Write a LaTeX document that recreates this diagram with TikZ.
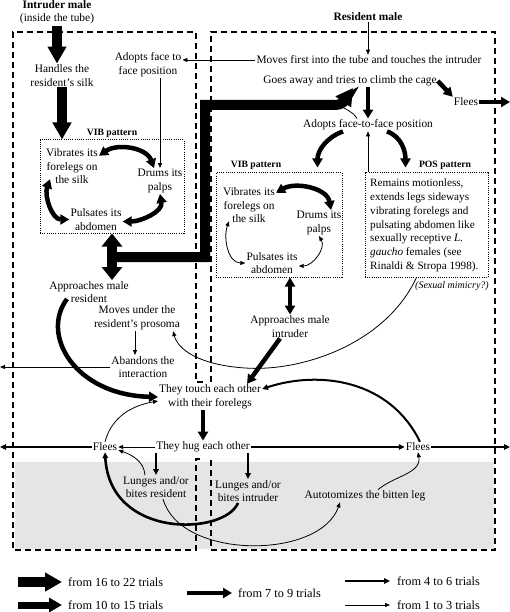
\documentclass[tikz,border=0pt]{standalone}
\usepackage{fontspec}
\setmainfont{Liberation Serif}
\usetikzlibrary{arrows.meta}

\begin{document}
\begin{tikzpicture}[x=1pt, y=1pt,
  font=\fontsize{11.4}{13.5}\selectfont,
  txt/.style={align=center, inner sep=1pt},
  boxdash/.style={line width=2pt, dash pattern=on 6pt off 4pt},
  patbox/.style={draw, line width=1pt, dash pattern=on 1pt off 1.2pt, inner sep=0pt},
  patlab/.style={font=\fontsize{9.7}{11}\selectfont\bfseries, inner sep=1pt},
  legtxt/.style={anchor=west, inner sep=0pt, font=\fontsize{12.3}{14}\selectfont},
  wa/.style={line width=10pt, -{Triangle[length=17pt,width=18pt]}},
  wad/.style={line width=10pt, {Triangle[length=13pt,width=20pt]}-{Triangle[length=13pt,width=20pt]}},
  wb/.style={line width=7pt, -{Triangle[length=13pt,width=14pt]}},
  wc/.style={line width=4.5pt, -{Triangle[length=9pt,width=10pt]}},
  wcd/.style={line width=4.5pt, {Triangle[length=9pt,width=10pt]}-{Triangle[length=9pt,width=10pt]}},
  wd/.style={line width=2pt, -{Triangle[length=6pt,width=5.5pt]}},
  we/.style={line width=0.8pt, -{Triangle[length=5pt,width=4pt]}},
  wed/.style={line width=0.8pt, {Triangle[length=5pt,width=4pt]}-{Triangle[length=5pt,width=4pt]}}]

  \useasboundingbox (0,0) rectangle (510,-612);

  % 灰色区域
  \fill[black!10] (15,-462) rectangle (494,-549);

  % 两个虚线框
  \draw[boxdash] (203,-382) -- (196,-382) -- (196,-32) -- (13,-32) -- (13,-550) -- (196,-550) -- (196,-459) -- (203,-459);
  \draw[boxdash] (211,-382) -- (211,-32) -- (495,-32) -- (495,-550) -- (211,-550) -- (211,-460);

  % 上部节点
  \node[txt] (intr) at (57,-12.5) {\textbf{Intruder male}\\(inside the tube)};
  \node[txt] (resm) at (368,-17) {\textbf{Resident male}};
  \node[txt] (hand) at (62,-75.5) {Handles the\\resident's silk};
  \node[txt] (adoptL) at (148,-64.5) {Adopts face to\\face position};
  \node[txt] (moves) at (369,-60) {Moves first into the tube and touches the intruder};
  \node[txt] (goes) at (350,-81) {Goes away and tries to climb the cage};
  \node[txt] (fleesT) at (466,-102) {Flees};
  \node[txt] (f2f) at (368,-125) {Adopts face-to-face position};

  % 左边 VIB 框
  \node[patbox, minimum width=144pt, minimum height=93pt] (vibboxL) at (112,-186.5) {};
  \node[patlab] (vibLabL) at (112,-133) {VIB pattern};
  \node[txt] (vibL) at (72,-166.5) {Vibrates its\\forelegs on\\the silk};
  \node[txt] (drumL) at (160,-181) {Drums its\\palps};
  \node[txt] (pulsL) at (96,-219.5) {Pulsates its\\abdomen};

  % 右边 VIB 框和 POS 框
  \node[patbox, minimum width=126pt, minimum height=104pt] (vibboxR) at (279,-225) {};
  \node[patlab] (vibLabR) at (256,-165) {VIB pattern};
  \node[txt] (vibR) at (249,-205.5) {Vibrates its\\forelegs on\\the silk};
  \node[txt] (drumR) at (319,-223) {Drums its\\palps};
  \node[txt] (pulsR) at (272,-263) {Pulsates its\\abdomen};
  \node[patbox, minimum width=123pt, minimum height=104pt] (posbox) at (426.5,-225) {};
  \node[patlab] (posLab) at (445,-165) {POS pattern};
  \node[align=left, inner sep=0pt, anchor=west, font=\fontsize{11.2}{13.8}\selectfont] (postxt) at (370,-225.5)
    {Remains motionless,\\extends legs sideways\\vibrating forelegs and\\pulsating abdomen like\\sexually receptive \textit{L.}\\\textit{gaucho} females (see\\Rinaldi \& Stropa 1998).};
  \node[font=\fontsize{10}{11}\selectfont\itshape, inner sep=1pt] (mimic) at (452,-286) {(Sexual mimicry?)};

  % 中下部节点
  \node[txt] (apprR) at (290,-326.5) {Approaches male\\intruder};
  \node[txt] (apprL) at (89,-292) {Approaches male\\resident};
  \node[txt] (under) at (137,-318) {Moves under the\\resident's prosoma};
  \node[txt] (aband) at (143,-367) {Abandons the\\interaction};
  \node[txt] (touch) at (210,-397) {They touch each other\\with their forelegs};
  \node[txt] (hug) at (203,-447) {They hug each other};
  \node[txt] (fleesL) at (105,-447) {Flees};
  \node[txt] (fleesR) at (418,-447) {Flees};
  \node[txt] (lungR) at (156,-487) {Lunges and/or\\bites resident};
  \node[txt] (lungI) at (248,-491) {Lunges and/or\\bites intruder};
  \node[txt] (auto) at (365,-496) {Autotomizes the bitten leg};

  \coordinate (edgeL1) at (0,-366);
  \coordinate (edgeL2) at (0,-447);
  \coordinate (edgeR1) at (510,-102);
  \coordinate (edgeR2) at (510,-447);
  \coordinate (jn) at (112,-257);
  \coordinate (climbTip) at (353,-88);
  \coordinate (thk) at (338,-104);

  % 入侵者一侧
  \draw[wa] (intr.south) -- (intr.south |- hand.north);
  \draw[wa] (hand.south) -- (hand.south |- vibboxL.north);
  \draw[wcd] ([yshift=-8pt]vibL.north east) to[out=35,in=110] ([xshift=-6pt]drumL.north);
  \draw[wcd] ([xshift=5pt,yshift=6pt]vibL.south west) to[out=250,in=180] (pulsL.west);
  \draw[wcd] (drumL.south) to[out=-80,in=0] ([yshift=-2pt]pulsL.east);
  \draw[wad] (vibboxL.south -| jn) -- (apprL.north -| jn);
  \draw[wa, line join=miter] (jn) -| (205,-105) -- (335,-105) to[out=0,in=235] (climbTip);

  % 居住者一侧
  \draw[we] (resm.south) -- (resm.south |- moves.north);
  \draw[we] (moves.west) -- (moves.west -| adoptL.east);
  \draw[we] (adoptL.south -| drumL.north) -- (drumL.north);
  \draw[we, -] (thk) to[out=-40,in=120] ([xshift=-11pt]f2f.north);
  \draw[wc] (goes.south -| f2f.north) -- (f2f.north);
  \draw[wc] (goes.east) -- (fleesT.north west);
  \draw[wc] (fleesT.east) -- (edgeR1);
  \draw[wc] ([xshift=-25pt]f2f.south) to[out=200,in=90] ([xshift=-25pt,yshift=5pt]vibboxR.north east);
  \draw[wc] ([xshift=19pt]f2f.south) to[out=-20,in=90] ([xshift=-21pt,yshift=5pt]posbox.north);
  \draw[we] (f2f.south |- posbox.north) -- (f2f.south);
  \draw[wcd] ([yshift=-6pt]vibR.north east) to[out=30,in=100] ([xshift=12pt]drumR.north);
  \draw[wed] ([xshift=7pt,yshift=3pt]vibR.south west) to[out=250,in=180] (pulsR.west);
  \draw[wed] (drumR.south) to[out=-60,in=0] ([yshift=-3pt]pulsR.east);
  \draw[wcd] (vibboxR.south -| apprR.north) -- (apprR.north);
  \draw[wc] ([xshift=-10pt]apprR.south) -- ([xshift=-15pt]touch.north east);
  \draw[we] ([xshift=-10pt]posbox.south) .. controls (385,-345) and (300,-372) .. (245,-368)
    .. controls (200,-365) and (178,-350) .. ([xshift=-8pt]under.south east);

  % 接触以后
  \draw[wc] ([xshift=-22pt,yshift=5pt]apprL.south) .. controls (40,-335) and (75,-395) .. (touch.west);
  \draw[we] ([xshift=-2pt]under.south) -- ([xshift=-2pt]under.south |- aband.north);
  \draw[we] (aband.west) -- (aband.west -| edgeL1);
  \draw[wc] (touch.south -| hug.north) -- (hug.north);
  \draw[we] (hug.west) -- (fleesL.east);
  \draw[wd] (fleesL.west) -- (edgeL2);
  \draw[we] (fleesL.north) to[out=75,in=190] ([yshift=-4pt]touch.west);
  \draw[wd] (hug.east) -- (fleesR.west);
  \draw[wd] (fleesR.east) -- (edgeR2);
  \draw[wd] ([xshift=2pt]fleesR.north) .. controls (390,-380) and (320,-370) .. ([yshift=8pt]touch.east);
  \draw[wd] (hug.south -| lungR.north) -- (lungR.north);
  \draw[wd] (hug.south -| lungI.north) -- (lungI.north);
  \draw[we] ([xshift=-11pt]lungR.north) to[out=95,in=-20] ([yshift=-3pt]fleesL.east);
  \draw[wd, line width=2.6pt] ([xshift=-10pt]lungI.south) .. controls (225,-535) and (110,-540) .. (fleesL.south);
  \draw[we] ([xshift=7pt]lungR.south) .. controls (180,-560) and (320,-560) .. ([xshift=-25pt]auto.south);
  \draw[we] ([xshift=13pt]auto.north) to[out=40,in=-80] (fleesR.south);

  % 图例
  \coordinate (lgA) at (18,-582);
  \coordinate (lgB) at (18,-605);
  \coordinate (lgC) at (187,-593);
  \coordinate (lgD) at (345,-581);
  \coordinate (lgE) at (345,-605);
  \node[legtxt] (lgAtxt) at (68,-582) {from 16 to 22 trials};
  \node[legtxt] (lgBtxt) at (68,-605) {from 10 to 15 trials};
  \node[legtxt] (lgCtxt) at (238,-593) {from 7 to 9 trials};
  \node[legtxt] (lgDtxt) at (397,-581) {from 4 to 6 trials};
  \node[legtxt] (lgEtxt) at (397,-605) {from 1 to 3 trials};
  \draw[wa] (lgA) -- ([xshift=-6pt]lgAtxt.west);
  \draw[wb] (lgB) -- ([xshift=-6pt]lgBtxt.west);
  \draw[wc] (lgC) -- ([xshift=-6pt]lgCtxt.west);
  \draw[wd] (lgD) -- ([xshift=-7pt]lgDtxt.west);
  \draw[we] (lgE) -- ([xshift=-7pt]lgEtxt.west);
\end{tikzpicture}
\end{document}
